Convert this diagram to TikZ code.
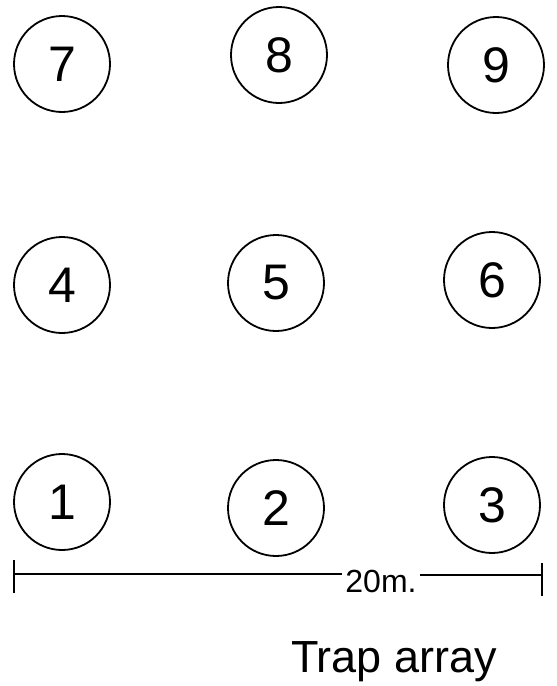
\documentclass[tikz,border=0pt]{standalone}
\usepackage{fontspec}
\setmainfont{Liberation Sans}
\begin{document}
\begin{tikzpicture}[x=1pt,y=-1pt,
  trap/.style={draw, circle, line width=1.8pt, minimum size=96pt, inner sep=0pt, font=\fontsize{50}{54}\selectfont},
  bar/.style={line width=2.6pt},
  lbl/.style={inner sep=0pt}]
\useasboundingbox (0,0) rectangle (557,686);
\node[trap] (t7) at (62,64) {7};
\node[trap] (t8) at (279,55) {8};
\node[trap] (t9) at (496,65) {9};
\node[trap] (t4) at (62,285) {4};
\node[trap] (t5) at (276,283) {5};
\node[trap] (t6) at (492,280) {6};
\node[trap] (t1) at (62,502) {1};
\node[trap] (t2) at (276,508) {2};
\node[trap] (t3) at (492,505) {3};
\coordinate (bl) at (14,574);
\coordinate (br) at (542,575);
\node[lbl, font=\fontsize{32}{34}\selectfont] (len) at (381,581) {20m.};
\draw[bar] (bl) -- ([xshift=-3pt]len.west |- bl);
\draw[bar] ([xshift=3pt]len.east |- br) -- (br);
\draw[bar] (14,560) -- (14,593);
\draw[bar] (542,563) -- (542,596);
\node[lbl, font=\fontsize{45}{48}\selectfont] (cap) at (394,662) {Trap array};
\end{tikzpicture}
\end{document}
